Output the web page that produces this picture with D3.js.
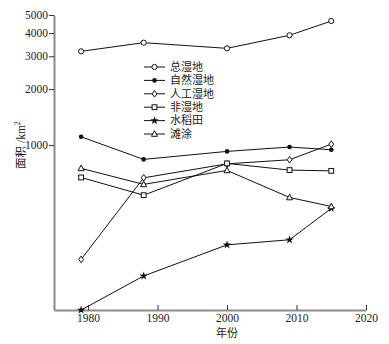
<!DOCTYPE html>
<html>
<head>
<meta charset="utf-8">
<script src="https://cdn.jsdelivr.net/npm/d3@7"></script>
<style>
  body { margin: 0; background: #fff; }
  svg { display: block; }
</style>
</head>
<body>
<svg id="chart" width="389" height="344"></svg>
<script>
// 年份 / 各类面积 (km²)
const years = [1979, 1988, 2000, 2009, 2015];
const seriesNames = ['总湿地', '自然湿地', '人工湿地', '非湿地', '水稻田', '滩涂'];
const totalWetland = [3190, 3550, 3310, 3890, 4640];
const naturalWetland = [1108, 838, 925, 976, 944];
const artificialWetland = [243, 667, 793, 834, 1012];
const nonWetland = [670, 538, 797, 734, 727];
const paddy = [130, 198, 291, 310, 457];
const tidalFlat = [750, 615, 731, 523, 468];
const yTicks = [1000, 2000, 3000, 4000, 5000];
const xTicks = [1980, 1990, 2000, 2010, 2020];

const seriesValues = [totalWetland, naturalWetland, artificialWetland, nonWetland, paddy, tidalFlat];
const markers = ['circle', 'dot', 'diamond', 'square', 'star', 'triangle'];

const margin = { top: 15, right: 23, bottom: 34, left: 54 };
const width = 389, height = 344;
const svg = d3.select('#chart');

const x = d3.scaleLinear([1975.1, 2020], [margin.left, width - margin.right]);
const y = d3.scaleLog([130, 5000], [height - margin.bottom, margin.top]);

const axisColor = '#8a8a8a';
const serif = '"Liberation Serif", "Times New Roman", serif';
const cjk = '"Noto Sans CJK SC", sans-serif';

// 坐标轴
const yAxis = svg.append('g')
  .attr('transform', `translate(${margin.left},0)`)
  .call(d3.axisLeft(y).tickValues(yTicks).tickFormat(d3.format('d')).tickSize(5).tickSizeOuter(0));
const xAxis = svg.append('g')
  .attr('transform', `translate(0,${height - margin.bottom})`)
  .call(d3.axisBottom(x).tickValues(xTicks).tickFormat(d3.format('d')).tickSize(-5).tickSizeOuter(0));

[yAxis, xAxis].forEach(g => {
  g.select('.domain').attr('stroke', axisColor).attr('stroke-width', 2);
  g.selectAll('.tick line').attr('stroke', '#333').attr('stroke-width', 1);
  g.selectAll('.tick text')
    .attr('fill', '#222')
    .style('font-family', serif)
    .style('font-size', '11.5px');
});
yAxis.selectAll('.tick text').attr('x', -6);
xAxis.selectAll('.tick text').attr('y', 4);

// 轴标题
svg.append('text')
  .attr('transform', 'translate(25,145) rotate(-90)')
  .attr('text-anchor', 'middle')
  .style('font-size', '11.5px')
  .attr('fill', '#222')
  .call(t => {
    t.append('tspan').style('font-family', cjk).text('面积');
    t.append('tspan').style('font-family', serif).text(' /km');
    t.append('tspan').style('font-family', serif).style('font-size', '8px').attr('dy', -5).text('2');
  });

svg.append('text')
  .attr('x', x(2000))
  .attr('y', 337)
  .attr('text-anchor', 'middle')
  .style('font-family', cjk)
  .style('font-size', '11px')
  .attr('fill', '#222')
  .text('年份');

// 标记符号
function drawMarker(g, type, cx, cy) {
  const s = g.append('g').attr('transform', `translate(${cx},${cy})`);
  switch (type) {
    case 'circle':
      s.append('circle').attr('r', 2.6).attr('fill', '#fff').attr('stroke', '#111').attr('stroke-width', 1);
      break;
    case 'dot':
      s.append('circle').attr('r', 2.3).attr('fill', '#111');
      break;
    case 'diamond':
      s.append('path').attr('d', 'M0,-3.3L2.4,0L0,3.3L-2.4,0Z').attr('fill', '#fff').attr('stroke', '#111').attr('stroke-width', 1);
      break;
    case 'square':
      s.append('rect').attr('x', -2.4).attr('y', -2.4).attr('width', 4.8).attr('height', 4.8)
        .attr('fill', '#fff').attr('stroke', '#111').attr('stroke-width', 1);
      break;
    case 'star':
      s.append('path').attr('d', d3.symbol(d3.symbolStar, 22)()).attr('fill', '#111');
      break;
    case 'triangle':
      s.append('path').attr('d', 'M0,-3.3L3,2.3L-3,2.3Z').attr('fill', '#fff').attr('stroke', '#111').attr('stroke-width', 1);
      break;
  }
}

const line = d3.line().x((d, i) => x(years[i])).y(d => y(d));

seriesValues.forEach((vals, k) => {
  const g = svg.append('g');
  g.append('path')
    .attr('d', line(vals))
    .attr('fill', 'none')
    .attr('stroke', '#111')
    .attr('stroke-width', 1);
  vals.forEach((v, i) => drawMarker(g, markers[k], x(years[i]), y(v)));
});

// 图例
const legend = svg.append('g').attr('transform', 'translate(144,67)');
seriesNames.forEach((name, i) => {
  const row = legend.append('g').attr('transform', `translate(0,${i * 13.4})`);
  row.append('line').attr('x1', 0).attr('x2', 21).attr('stroke', '#111').attr('stroke-width', 1);
  drawMarker(row, markers[i], 10.5, 0);
  row.append('text')
    .attr('x', 26)
    .attr('dy', '0.35em')
    .style('font-family', cjk)
    .style('font-size', '11px')
    .attr('fill', '#222')
    .text(name);
});
</script>
</body>
</html>
